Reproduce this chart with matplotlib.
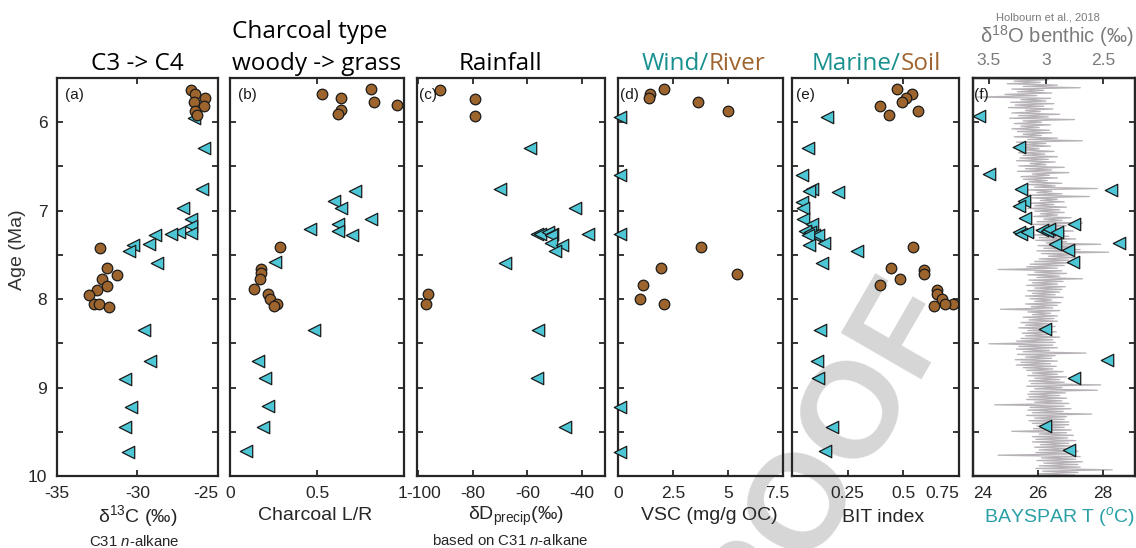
import matplotlib.pyplot as plt
from matplotlib.transforms import ScaledTranslation

plt.rcParams['font.family'] = ['Liberation Sans', 'DejaVu Sans']
plt.rcParams['mathtext.fontset'] = 'custom'
plt.rcParams['mathtext.rm'] = 'Liberation Sans'
plt.rcParams['mathtext.it'] = 'Liberation Sans:italic'
plt.rcParams['mathtext.bf'] = 'Liberation Sans:bold'

# ============================================
# Data (age in Ma)
# circles = terrestrial / soil signal, triangles = marine signal
# ============================================
# (a) d13C of C31 n-alkane
a_circ_age = [5.64, 5.68, 5.73, 5.77, 5.82, 5.87, 5.92, 7.42, 7.65, 7.73, 7.77, 7.85, 7.90, 7.95, 8.06, 8.06, 8.09]
a_circ = [-26.7, -26.4, -25.8, -26.5, -25.9, -26.4, -26.3, -32.3, -31.9, -31.3, -32.2, -31.9, -32.5, -33.0, -32.7, -32.4, -31.8]
a_tri_age = [5.95, 6.29, 6.76, 6.97, 7.09, 7.17, 7.25, 7.24, 7.26, 7.27, 7.38, 7.39, 7.46, 7.59, 8.35, 8.70, 8.90, 9.22, 9.45, 9.73]
a_tri = [-26.5, -25.9, -26.0, -27.2, -26.7, -26.7, -26.7, -27.4, -27.9, -28.9, -29.3, -30.3, -30.5, -28.8, -29.6, -29.2, -30.8, -30.4, -30.8, -30.6]

# (b) charcoal L/R
b_circ_age = [5.63, 5.68, 5.73, 5.77, 5.81, 5.86, 5.91, 7.41, 7.66, 7.71, 7.77, 7.89, 7.94, 8.00, 8.05, 8.08]
b_circ = [0.81, 0.53, 0.64, 0.83, 0.96, 0.64, 0.62, 0.29, 0.18, 0.18, 0.17, 0.14, 0.22, 0.23, 0.27, 0.25]
b_tri_age = [6.78, 6.89, 6.97, 7.09, 7.15, 7.21, 7.23, 7.27, 7.58, 8.35, 8.70, 8.89, 9.21, 9.45, 9.72]
b_tri = [0.72, 0.60, 0.64, 0.81, 0.62, 0.46, 0.62, 0.70, 0.26, 0.48, 0.16, 0.20, 0.22, 0.19, 0.09]

# (c) dD precip
c_circ_age = [5.64, 5.74, 5.93, 7.94, 8.06]
c_circ = [-91.9, -79.1, -79.1, -96.6, -97.1]
c_tri_age = [6.29, 6.76, 6.97, 7.26, 7.26, 7.26, 7.24, 7.26, 7.27, 7.37, 7.39, 7.46, 7.59, 8.35, 8.89, 9.45]
c_tri = [-59.1, -70.2, -42.5, -37.6, -56.6, -55.4, -52.3, -51.1, -51.3, -51.3, -47.4, -49.9, -68.1, -56.0, -56.6, -46.2]

# (d) VSC
d_circ_age = [5.63, 5.68, 5.73, 5.77, 5.87, 7.41, 7.65, 7.72, 7.84, 8.00, 8.06]
d_circ = [2.07, 1.46, 1.40, 3.62, 5.00, 3.78, 1.96, 5.42, 1.13, 0.98, 2.07]
d_tri_age = [5.94, 6.60, 7.26, 9.22, 9.73]
d_tri = [0.07, 0.07, 0.07, 0.07, 0.07]

# (e) BIT index
e_circ_age = [5.63, 5.68, 5.73, 5.77, 5.82, 5.87, 5.92, 7.41, 7.65, 7.67, 7.72, 7.77, 7.84, 7.90, 7.94, 8.00, 8.05, 8.06, 8.08]
e_circ = [0.472, 0.537, 0.510, 0.496, 0.397, 0.567, 0.436, 0.545, 0.445, 0.591, 0.594, 0.487, 0.397, 0.651, 0.650, 0.675, 0.723, 0.687, 0.638]
e_tri_age = [5.94, 6.29, 6.60, 6.76, 6.78, 6.79, 6.90, 6.97, 7.09, 7.15, 7.23, 7.24, 7.27, 7.27, 7.27, 7.37, 7.39, 7.46, 7.59, 8.35, 8.70, 8.89, 9.45, 9.72]
e_tri = [0.159, 0.073, 0.046, 0.088, 0.076, 0.205, 0.046, 0.051, 0.051, 0.091, 0.058, 0.081, 0.100, 0.115, 0.073, 0.144, 0.078, 0.290, 0.133, 0.126, 0.111, 0.118, 0.178, 0.148]

# (f) BAYSPAR SST
f_tri_age = [5.93, 6.28, 6.58, 6.77, 6.75, 6.89, 6.95, 7.08, 7.15, 7.24, 7.26, 7.24, 7.22, 7.23, 7.21, 7.24, 7.38, 7.36, 7.45, 7.58, 8.34, 8.69, 8.89, 9.44, 9.71]
f_tri = [24.20, 25.42, 24.50, 28.27, 25.47, 25.57, 25.41, 25.61, 27.12, 25.42, 25.49, 25.68, 26.13, 26.28, 26.36, 26.58, 26.52, 28.51, 26.92, 27.10, 26.23, 28.15, 27.12, 26.23, 26.95]

# benthic d18O (Holbourn et al., 2018), traced by eye
o18_age = [5.505, 5.52, 5.535, 5.55, 5.565, 5.58, 5.595, 5.61, 5.625, 5.64, 5.655, 5.67, 5.685, 5.70, 5.715, 5.73, 5.745, 5.76, 5.775, 5.79,
           5.805, 5.82, 5.835, 5.85, 5.865, 5.88, 5.895, 5.91, 5.925, 5.94, 5.955, 5.97, 5.985, 6.00, 6.015, 6.03, 6.045, 6.06, 6.075, 6.09,
           6.105, 6.12, 6.135, 6.15, 6.165, 6.18, 6.195, 6.21, 6.225, 6.24, 6.255, 6.27, 6.285, 6.30, 6.315, 6.33, 6.345, 6.36, 6.375, 6.39,
           6.405, 6.42, 6.435, 6.45, 6.465, 6.48, 6.495, 6.51, 6.525, 6.54, 6.555, 6.57, 6.585, 6.60, 6.615, 6.63, 6.645, 6.66, 6.675, 6.69,
           6.705, 6.72, 6.735, 6.75, 6.765, 6.78, 6.795, 6.81, 6.825, 6.84, 6.855, 6.87, 6.885, 6.90, 6.915, 6.93, 6.945, 6.96, 6.975, 6.99,
           7.005, 7.02, 7.035, 7.05, 7.065, 7.08, 7.095, 7.11, 7.125, 7.14, 7.155, 7.17, 7.185, 7.20, 7.215, 7.23, 7.245, 7.26, 7.275, 7.29,
           7.305, 7.32, 7.335, 7.35, 7.365, 7.38, 7.395, 7.41, 7.425, 7.44, 7.455, 7.47, 7.485, 7.50, 7.515, 7.53, 7.545, 7.56, 7.575, 7.59,
           7.605, 7.62, 7.635, 7.65, 7.665, 7.68, 7.695, 7.71, 7.725, 7.74, 7.755, 7.77, 7.785, 7.80, 7.815, 7.83, 7.845, 7.86, 7.875, 7.89,
           7.905, 7.92, 7.935, 7.95, 7.965, 7.98, 7.995, 8.01, 8.025, 8.04, 8.055, 8.07, 8.085, 8.10, 8.115, 8.13, 8.145, 8.16, 8.175, 8.19,
           8.205, 8.22, 8.235, 8.25, 8.265, 8.28, 8.295, 8.31, 8.325, 8.34, 8.355, 8.37, 8.385, 8.40, 8.415, 8.43, 8.445, 8.46, 8.475, 8.49,
           8.505, 8.52, 8.535, 8.55, 8.565, 8.58, 8.595, 8.61, 8.625, 8.64, 8.655, 8.67, 8.685, 8.70, 8.715, 8.73, 8.745, 8.76, 8.775, 8.79,
           8.805, 8.82, 8.835, 8.85, 8.865, 8.88, 8.895, 8.91, 8.925, 8.94, 8.955, 8.97, 8.985, 9.00, 9.015, 9.03, 9.045, 9.06, 9.075, 9.09,
           9.105, 9.12, 9.135, 9.15, 9.165, 9.18, 9.195, 9.21, 9.225, 9.24, 9.255, 9.27, 9.285, 9.30, 9.315, 9.33, 9.345, 9.36, 9.375, 9.39,
           9.405, 9.42, 9.435, 9.45, 9.465, 9.48, 9.495, 9.51, 9.525, 9.54, 9.555, 9.57, 9.585, 9.60, 9.615, 9.63, 9.645, 9.66, 9.675, 9.69,
           9.705, 9.72, 9.735, 9.75, 9.765, 9.78, 9.795, 9.81, 9.825, 9.84, 9.855, 9.87, 9.885, 9.90, 9.915, 9.93, 9.945, 9.96, 9.975, 9.99]
o18 = [3.62, 2.98, 3.28, 3.05, 3.34, 2.90, 3.20, 2.70, 3.30, 3.02, 3.25, 2.95, 3.36, 3.08, 3.60, 2.96, 3.22, 3.00, 3.31, 2.93,
       3.27, 3.02, 3.33, 2.94, 3.18, 3.05, 3.30, 2.88, 3.24, 2.98, 3.32, 2.75, 3.20, 3.04, 3.28, 2.96, 3.22, 3.06, 3.30, 2.97,
       3.25, 2.95, 3.20, 3.04, 3.28, 2.90, 3.16, 2.68, 3.26, 3.00, 3.21, 2.96, 3.29, 3.06, 3.18, 2.93, 3.24, 3.01, 3.20, 2.90,
       3.23, 2.98, 3.26, 2.92, 3.14, 3.00, 3.24, 2.84, 3.18, 2.95, 3.25, 2.80, 3.12, 2.97, 3.22, 2.90, 3.20, 2.99, 3.15, 2.86,
       3.16, 2.92, 3.10, 2.55, 3.17, 2.95, 3.08, 2.86, 3.15, 2.62, 3.12, 2.90, 3.05, 2.84, 3.14, 2.93, 3.10, 2.82, 3.16, 2.88,
       3.10, 2.84, 3.05, 2.90, 3.11, 2.78, 3.02, 2.86, 3.08, 2.68, 3.12, 2.82, 3.00, 2.88, 3.09, 2.76, 3.04, 2.84, 3.10, 2.80,
       3.06, 2.74, 3.09, 2.82, 3.00, 2.52, 3.07, 2.76, 3.02, 2.70, 3.08, 2.45, 3.04, 2.78, 2.98, 2.72, 3.06, 2.80, 3.10, 2.74,
       3.14, 2.84, 3.17, 2.90, 3.42, 2.86, 3.10, 2.82, 3.16, 2.88, 3.08, 2.68, 3.15, 2.85, 3.12, 2.90, 3.17, 2.83, 3.10, 2.86,
       3.16, 2.88, 3.12, 2.92, 3.18, 2.85, 3.14, 2.95, 3.10, 2.87, 3.18, 2.90, 3.13, 2.94, 3.40, 2.88, 3.16, 2.96, 3.12, 2.90,
       3.20, 2.93, 3.15, 2.90, 3.22, 2.97, 3.18, 2.92, 3.24, 2.95, 3.16, 2.91, 3.21, 2.96, 3.18, 2.88, 3.22, 2.94, 3.26, 2.92,
       3.50, 2.94, 3.24, 2.90, 3.26, 2.97, 3.20, 2.65, 3.25, 2.92, 3.18, 2.95, 3.27, 2.90, 3.22, 2.96, 3.26, 2.91, 3.20, 2.94,
       3.17, 2.85, 3.12, 2.90, 3.16, 2.82, 3.10, 2.88, 3.15, 2.84, 3.13, 2.52, 3.17, 2.86, 3.10, 2.55, 3.14, 2.83, 3.16, 2.88,
       3.15, 2.82, 3.17, 2.86, 3.10, 2.80, 3.45, 2.84, 3.14, 2.78, 3.16, 2.85, 3.12, 2.60, 3.17, 2.82, 3.10, 2.84, 3.15, 2.80,
       3.12, 2.80, 3.08, 2.84, 3.11, 2.78, 3.30, 2.82, 3.06, 2.76, 3.12, 2.81, 3.09, 2.74, 3.12, 2.80, 3.05, 2.78, 3.10, 2.76,
       3.06, 2.72, 3.09, 2.76, 3.42, 2.70, 3.04, 2.74, 3.08, 2.68, 3.02, 2.72, 3.06, 2.70, 3.09, 2.42, 3.03, 2.72, 3.07, 2.75]

# ============================================
# Colours / layout
# ============================================
BROWN = '#9d652d'
TEAL = '#4dc6d6'
TEAL_TXT = '#17908f'
BROWN_TXT = '#a0652f'
GREY_TXT = '#7a7a7a'
INK = '#262626'
TITLE_FONT = ['Open Sans', 'DejaVu Sans']

W, H = 1136, 548
fig = plt.figure(figsize=(W / 100, H / 100), dpi=100)


def fx(x):
    return x / W


def fy(y):
    return 1 - y / H


def nudge(label, dx_px):
    label.set_transform(label.get_transform() + ScaledTranslation(dx_px / 100, 0, fig.dpi_scale_trans))


top, bottom = 78, 476
edges = [(57, 218), (230, 404), (417, 605), (618, 783), (792, 959), (973, 1135)]
axes = []
for i, (x0, x1) in enumerate(edges):
    ax = fig.add_axes([fx(x0), fy(bottom), (x1 - x0) / W, (bottom - top) / H])
    ax.set_facecolor('none')
    ax.set_ylim(10, 5.5)
    ax.set_yticks([5.5, 6, 6.5, 7, 7.5, 8, 8.5, 9, 9.5, 10])
    ax.set_yticklabels(['', '6', '', '7', '', '8', '', '9', '', '10'])
    ax.tick_params(direction='in', length=4, width=1.3, colors=INK, labelsize=12.5,
                   top=(i < 5), right=True, labelleft=(i == 0), pad=7)
    for s in ax.spines.values():
        s.set_linewidth(1.6)
        s.set_color(INK)
    axes.append(ax)


def dots(ax, x, y):
    ax.scatter(x, y, s=58, marker='o', facecolor=BROWN, edgecolor='#1a1a1a',
               linewidth=0.9, zorder=4, clip_on=False)


def tris(ax, x, y):
    ax.scatter(x, y, s=80, marker='<', facecolor=TEAL, edgecolor='#1a1a1a',
               linewidth=0.9, zorder=3, clip_on=False)


# watermark behind everything
fig.text(fx(804), fy(498), 'PROOF', rotation=60, fontsize=98, fontweight='bold',
         color='#d6d6d6', ha='center', va='center', zorder=-5)

# (a)
ax = axes[0]
tris(ax, a_tri, a_tri_age)
dots(ax, a_circ, a_circ_age)
ax.set_xlim(-35, -25)
ax.set_xticks([-35, -30, -25])
labs = ax.set_xticklabels(['-35', '-30', '-25'])
labs[-1].set_ha('right')

# (b)
ax = axes[1]
tris(ax, b_tri, b_tri_age)
dots(ax, b_circ, b_circ_age)
ax.set_xlim(0, 1)
ax.set_xticks([0, 0.5, 1])
labs = ax.set_xticklabels(['0', '0.5', '1'])
labs[-1].set_ha('right')
nudge(labs[-1], 3)

# (c)
ax = axes[2]
tris(ax, c_tri, c_tri_age)
dots(ax, c_circ, c_circ_age)
ax.set_xlim(-100.5, -31.5)
ax.set_xticks([-100, -80, -60, -40])
labs = ax.set_xticklabels(['-100', '-80', '-60', '-40'])
nudge(labs[0], 5)

# (d)
ax = axes[3]
tris(ax, d_tri, d_tri_age)
dots(ax, d_circ, d_circ_age)
ax.set_xlim(0, 7.45)
ax.set_xticks([0, 2.5, 5, 7.5])
labs = ax.set_xticklabels(['0', '2.5', '5', '7.5'])
nudge(labs[-1], -6)

# (e)
ax = axes[4]
tris(ax, e_tri, e_tri_age)
dots(ax, e_circ, e_circ_age)
ax.set_xlim(0, 0.75)
ax.set_xticks([0.25, 0.5, 0.75])
labs = ax.set_xticklabels(['0.25', '0.5', '0.75'])
labs[-1].set_ha('right')

# (f) SST with benthic d18O on a twin axis
ax = axes[5]
ax_top = ax.twiny()
ax_top.plot(o18, o18_age, color='#b7b2b7', linewidth=0.9, zorder=1)
ax_top.set_xlim(3.64, 2.22)
ax_top.set_xticks([3.5, 3, 2.5])
ax_top.set_xticklabels(['3.5', '3', '2.5'])
ax_top.tick_params(direction='in', length=4, width=1.3, colors=INK, labelcolor=GREY_TXT,
                   labelsize=12.5, pad=7)
ax_top.set_ylim(10, 5.5)
for s in ax_top.spines.values():
    s.set_linewidth(1.6)
    s.set_color(INK)
ax.set_zorder(ax_top.get_zorder() + 1)
tris(ax, f_tri, f_tri_age)
ax.set_xlim(24, 29)
ax.set_xticks([24, 26, 28])
labs = ax.set_xticklabels(['24', '26', '28'])
labs[0].set_ha('left')

# panel letters
letter_dx = [8, 8, 2, 2, 4, 1]
for ax, (x0, x1), let, dx in zip(axes, edges, 'abcdef', letter_dx):
    fig.text(fx(x0 + dx), fy(99), '(%s)' % let, fontsize=11, color='#1a1a1a',
             ha='left', va='baseline')

# ============================================
# Titles
# ============================================
fig.text(fx(137), fy(70), 'C3 -> C4', fontsize=17.5, family=TITLE_FONT, ha='center', va='baseline')
fig.text(fx(232), fy(38), 'Charcoal type', fontsize=17.5, family=TITLE_FONT, ha='left', va='baseline')
fig.text(fx(232), fy(70), 'woody -> grass', fontsize=17.5, family=TITLE_FONT, ha='left', va='baseline')
fig.text(fx(500), fy(70), 'Rainfall', fontsize=17.5, family=TITLE_FONT, ha='center', va='baseline')
fig.text(fx(709), fy(70), 'Wind/', fontsize=17.5, family=TITLE_FONT, color=TEAL_TXT, ha='right', va='baseline')
fig.text(fx(709), fy(70), 'River', fontsize=17.5, family=TITLE_FONT, color=BROWN_TXT, ha='left', va='baseline')
fig.text(fx(901), fy(70), 'Marine/', fontsize=17.5, family=TITLE_FONT, color=TEAL_TXT, ha='right', va='baseline')
fig.text(fx(901), fy(70), 'Soil', fontsize=17.5, family=TITLE_FONT, color=BROWN_TXT, ha='left', va='baseline')
fig.text(fx(1048), fy(20), 'Holbourn et al., 2018', fontsize=8, color=GREY_TXT, ha='center', va='baseline')
fig.text(fx(1057), fy(43), '\u03b4$^{18}$O benthic (\u2030)', fontsize=14.5, color=GREY_TXT,
         ha='center', va='baseline')

# ============================================
# Axis labels
# ============================================
fig.text(fx(18), fy(250), 'Age (Ma)', fontsize=14, color='#333333', rotation=90, ha='center', va='center')
fig.text(fx(138), fy(522), '\u03b4$^{13}$C (\u2030)', fontsize=14, color=INK, ha='center', va='baseline')
fig.text(fx(134), fy(546), 'C31 $n$-alkane', fontsize=10.8, color=INK, ha='center', va='baseline')
fig.text(fx(315), fy(520), 'Charcoal L/R', fontsize=14, color=INK, ha='center', va='baseline')
fig.text(fx(516), fy(520), '\u03b4D$_{\\mathrm{precip}}$(\u2030)', fontsize=14, color=INK, ha='center', va='baseline')
fig.text(fx(510), fy(545), 'based on C31 $n$-alkane', fontsize=10.8, color=INK, ha='center', va='baseline')
fig.text(fx(709), fy(520), 'VSC (mg/g OC)', fontsize=14, color=INK, ha='center', va='baseline')
fig.text(fx(883), fy(522), 'BIT index', fontsize=14, color=INK, ha='center', va='baseline')
fig.text(fx(1060), fy(522), 'BAYSPAR T ($^{o}$C)', fontsize=14, color='#2a9fa6', ha='center', va='baseline')

fig.savefig('out.png', dpi=100)
